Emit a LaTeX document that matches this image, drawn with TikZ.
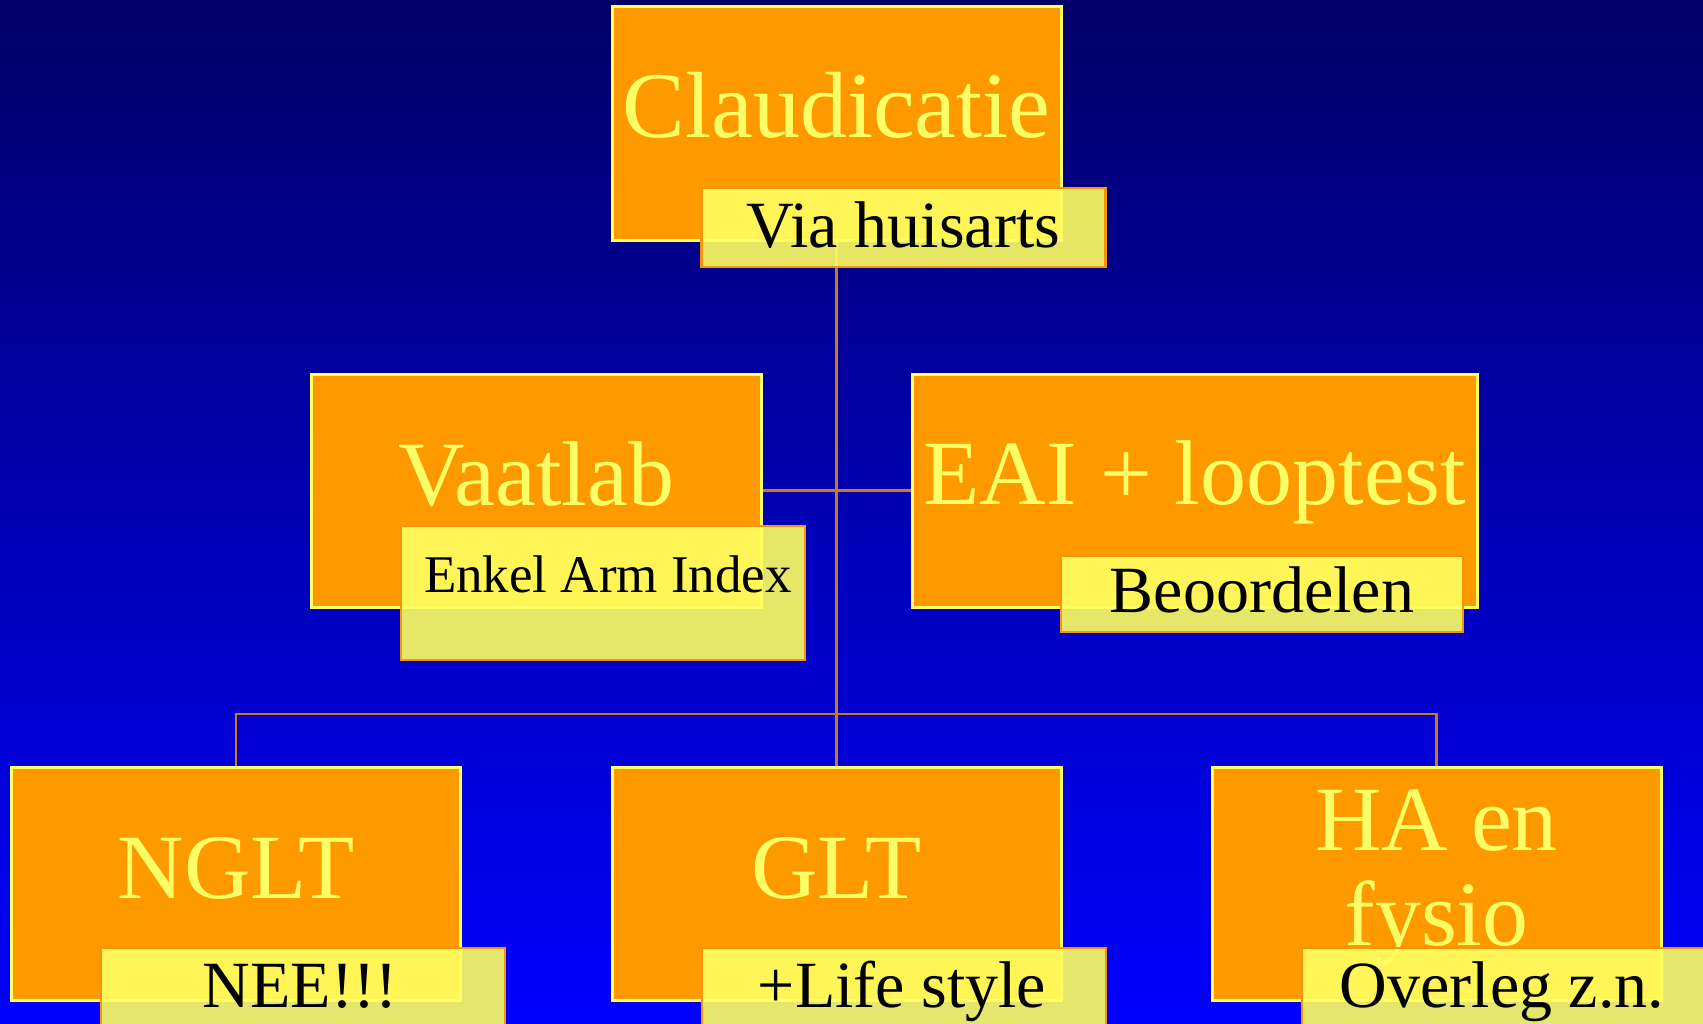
\documentclass[tikz,border=0pt]{standalone}
\usepackage{fontspec}
\setmainfont{Liberation Serif}
\definecolor{bgtop}{RGB}{0,0,102}
\definecolor{bgbot}{RGB}{0,0,255}
\definecolor{boxfill}{RGB}{255,153,0}
\definecolor{boxline}{RGB}{255,255,102}
\definecolor{notefill}{RGB}{255,255,96}
\definecolor{noteline}{RGB}{245,150,10}
\definecolor{connline}{RGB}{204,120,30}
\pgfdeclarelayer{backdrop}
\pgfdeclarelayer{lines}
\pgfsetlayers{backdrop,lines,main}
\tikzset{
  orgbox/.style={draw=boxline, line width=3pt, fill=boxfill, rectangle,
    inner sep=0pt, minimum width=#1, minimum height=233pt},
  orgbox/.default=449pt,
  notebox/.style={draw=noteline, line width=2.5pt, fill=notefill, fill opacity=0.9,
    rectangle, inner sep=0pt, minimum width=404pt, minimum height=#1},
  notebox/.default=79pt,
  bigtext/.style={text=boxline, inner sep=0pt, anchor=base,
    font=\fontsize{92}{95}\selectfont},
  notetext/.style={text=black, inner sep=0pt, anchor=base,
    font=\fontsize{66}{70}\selectfont},
  conn/.style={draw=connline, line width=2.5pt}
}
\begin{document}
\begin{tikzpicture}[x=1pt, y=-1pt]
\useasboundingbox (0,0) rectangle (1703,1024);
\begin{pgfonlayer}{backdrop}
  \shade[top color=bgtop, bottom color=bgbot] (0,0) rectangle (1703,1024);
\end{pgfonlayer}

% boxes of the chart
\node[orgbox, minimum height=234pt] (claud) at (836.5,124) {};
\node[orgbox=450pt] (vaat) at (536,490.5) {};
\node[orgbox=565pt] (eai) at (1194.5,490.5) {};
\node[orgbox] (nglt) at (236,883.5) {};
\node[orgbox] (glt) at (836.5,883.5) {};
\node[orgbox] (ha) at (1436.5,883.5) {};

% connectors, behind the boxes
\coordinate (bus) at (836.5,714);
\begin{pgfonlayer}{lines}
  \draw[conn] (claud.south) -- (glt.north);
  \draw[conn] (vaat.east) -- (eai.west);
  \draw[conn] (nglt.north) |- (bus) -| (ha.north);
\end{pgfonlayer}

% box titles
\node[bigtext, font=\fontsize{94}{95}\selectfont] (claudt) at (836.5,138) {Claudicatie};
\node[bigtext] (vaatt) at (536,505) {Vaatlab};
\node[bigtext] (eait) at (1195,504) {EAI + looptest};
\node[bigtext] (ngltt) at (236,898) {NGLT};
\node[bigtext] (gltt) at (836.5,898) {GLT};
\node[bigtext] (hat1) at (1436.5,850) {HA en};
\node[bigtext] (hat2) at (1436.5,945) {fysio};

% notes
\node[notebox] (claudn) at (903.5,227.5) {};
\node[notebox=134pt] (vaatn) at (603,593) {};
\node[notebox=76pt, minimum width=402pt] (eain) at (1262,594) {};
\node[notebox] (ngltn) at (303,987.5) {};
\node[notebox] (gltn) at (904,987.5) {};
\node[notebox] (han) at (1504,987.5) {};

\node[notetext] (claudnt) at (903.5,248) {Via huisarts};
\node[notetext, font=\fontsize{53}{60}\selectfont] (vaatnt) at (608,592) {Enkel Arm Index};
\node[notetext] (eaint) at (1262,612) {Beoordelen};
\node[notetext] (ngltnt) at (300,1007) {NEE!!!};
\node[notetext] (gltnt) at (902,1007) {+Life style};
\node[notetext] (hant) at (1502,1007) {Overleg z.n.};
\end{tikzpicture}
\end{document}
